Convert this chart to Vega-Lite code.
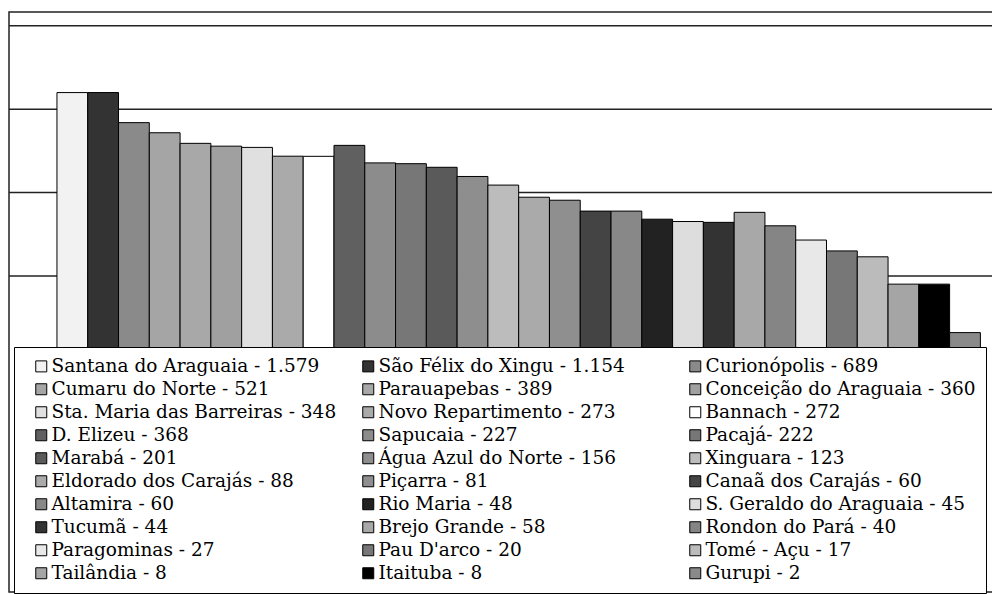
{
  "$schema": "https://vega.github.io/schema/vega-lite/v6.json",
  "width": 985,
  "height": 580,
  "autosize": "none",
  "padding": {"left": 9, "top": 12, "right": 0, "bottom": 2},
  "background": "white",
  "config": {"view": {"stroke": "#222", "strokeWidth": 1.5}},
  "datasets": {
    "munis": [
      {"label": "Santana do Araguaia - 1.579", "value": 1579},
      {"label": "São Félix do Xingu - 1.154", "value": 1580},
      {"label": "Curionópolis - 689", "value": 689},
      {"label": "Cumaru do Norte - 521", "value": 521},
      {"label": "Parauapebas - 389", "value": 389},
      {"label": "Conceição do Araguaia - 360", "value": 360},
      {"label": "Sta. Maria das Barreiras - 348", "value": 348},
      {"label": "Novo Repartimento - 273", "value": 273},
      {"label": "Bannach - 272", "value": 272},
      {"label": "D. Elizeu - 368", "value": 368},
      {"label": "Sapucaia - 227", "value": 227},
      {"label": "Pacajá- 222", "value": 222},
      {"label": "Marabá - 201", "value": 201},
      {"label": "Água Azul do Norte - 156", "value": 156},
      {"label": "Xinguara - 123", "value": 123},
      {"label": "Eldorado dos Carajás - 88", "value": 88},
      {"label": "Piçarra - 81", "value": 81},
      {"label": "Canaã dos Carajás - 60", "value": 60},
      {"label": "Altamira - 60", "value": 60},
      {"label": "Rio Maria - 48", "value": 48},
      {"label": "S. Geraldo do Araguaia - 45", "value": 45},
      {"label": "Tucumã - 44", "value": 44},
      {"label": "Brejo Grande - 58", "value": 58},
      {"label": "Rondon do Pará - 40", "value": 40},
      {"label": "Paragominas - 27", "value": 27},
      {"label": "Pau D'arco - 20", "value": 20},
      {"label": "Tomé - Açu - 17", "value": 17},
      {"label": "Tailândia - 8", "value": 8},
      {"label": "Itaituba - 8", "value": 8},
      {"label": "Gurupi - 2", "value": 2.1}
    ],
    "grid": [{"v": 10}, {"v": 100}, {"v": 1000}, {"v": 10000}]
  },
  "layer": [
    {
      "data": {"name": "grid"},
      "mark": {"type": "rule", "color": "#222", "strokeWidth": 1.5},
      "encoding": {
        "y": {"field": "v", "type": "quantitative", "scale": {"type": "log", "domain": [0.001637, 14585], "nice": false, "zero": false}, "axis": null}
      }
    },
    {
      "data": {"name": "munis"},
      "mark": {"type": "bar", "stroke": "black", "strokeWidth": 1},
      "encoding": {
        "x": {"field": "label", "type": "nominal", "sort": null, "scale": {"paddingInner": 0, "paddingOuter": 1, "align": 0.779}, "axis": null},
        "y": {"field": "value", "type": "quantitative", "scale": {"type": "log", "domain": [0.001637, 14585], "nice": false, "zero": false}, "axis": null},
        "y2": {"datum": 1},
        "fill": {
          "field": "label",
          "type": "nominal",
          "scale": {
            "domain": ["Santana do Araguaia - 1.579", "São Félix do Xingu - 1.154", "Curionópolis - 689", "Cumaru do Norte - 521", "Parauapebas - 389", "Conceição do Araguaia - 360", "Sta. Maria das Barreiras - 348", "Novo Repartimento - 273", "Bannach - 272", "D. Elizeu - 368", "Sapucaia - 227", "Pacajá- 222", "Marabá - 201", "Água Azul do Norte - 156", "Xinguara - 123", "Eldorado dos Carajás - 88", "Piçarra - 81", "Canaã dos Carajás - 60", "Altamira - 60", "Rio Maria - 48", "S. Geraldo do Araguaia - 45", "Tucumã - 44", "Brejo Grande - 58", "Rondon do Pará - 40", "Paragominas - 27", "Pau D'arco - 20", "Tomé - Açu - 17", "Tailândia - 8", "Itaituba - 8", "Gurupi - 2"],
            "range": ["#f2f2f2", "#333333", "#8a8a8a", "#a5a5a5", "#a8a8a8", "#a0a0a0", "#e0e0e0", "#aaaaaa", "#ffffff", "#606060", "#8c8c8c", "#777777", "#5a5a5a", "#8e8e8e", "#bcbcbc", "#aaaaaa", "#8f8f8f", "#444444", "#888888", "#222222", "#dddddd", "#333333", "#a8a8a8", "#858585", "#e8e8e8", "#777777", "#bbbbbb", "#a5a5a5", "#000000", "#8a8a8a"]
          },
          "legend": {
            "orient": "none",
            "direction": "horizontal",
            "legendX": 5,
            "legendY": 335,
            "title": null,
            "columns": 3,
            "gridAlign": "all",
            "columnPadding": 14,
            "rowPadding": 4,
            "padding": 10,
            "fillColor": "white",
            "strokeColor": "black",
            "symbolType": "square",
            "symbolSize": 121,
            "symbolStrokeColor": "black",
            "symbolStrokeWidth": 1,
            "symbolOffset": 8,
            "labelOffset": 1,
            "labelFont": "DejaVu Serif",
            "labelFontSize": 18.5,
            "labelColor": "black",
            "labelLimit": 0
          }
        }
      }
    }
  ]
}
